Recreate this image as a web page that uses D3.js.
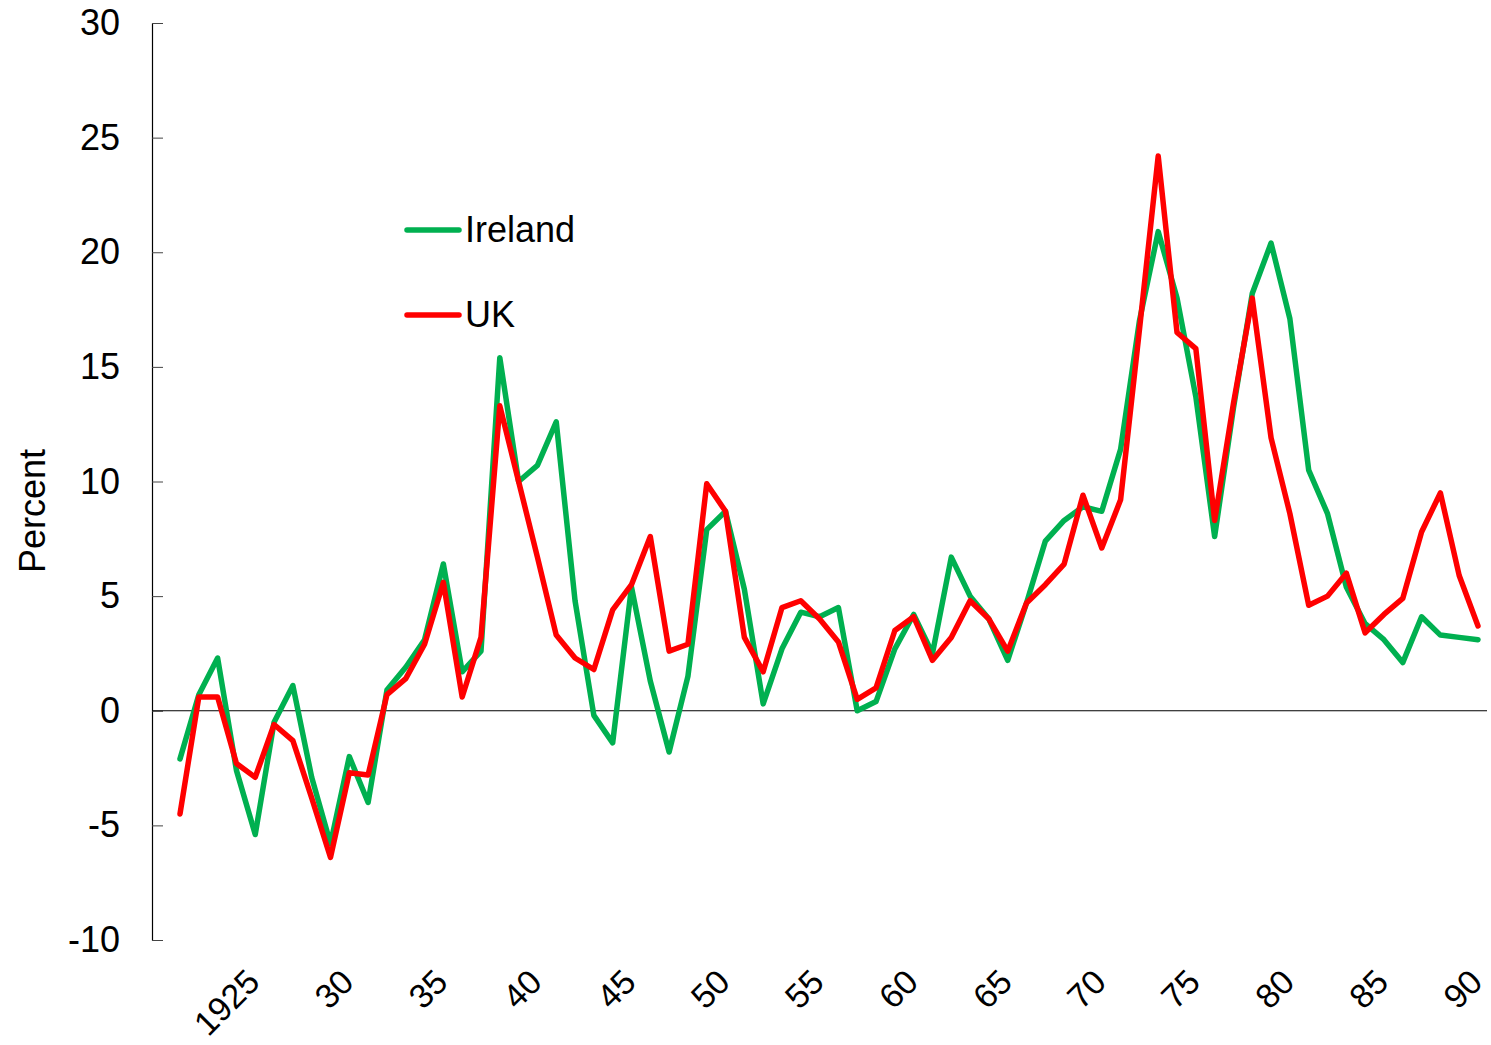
<!DOCTYPE html>
<html>
<head>
<meta charset="utf-8">
<script src="https://cdn.jsdelivr.net/npm/d3@7"></script>
<style>
  body { margin: 0; background: #fff; }
  text { font-family: "Liberation Sans", Arial, sans-serif; fill: #000; }
</style>
</head>
<body>
<svg width="1491" height="1045"></svg>
<script>
// years 1923 - 1992
var years = d3.range(1923, 1993);

var ireland = [-2.1, 0.7, 2.3, -2.6, -5.4, -0.5, 1.1, -2.9, -5.8, -2.0,
    -4.0, 0.9, 1.9, 3.1, 6.4, 1.7, 2.6, 15.4, 10.0, 10.7,
    12.6, 4.8, -0.2, -1.4, 5.4, 1.3, -1.8, 1.5, 7.9, 8.7,
    5.3, 0.3, 2.7, 4.3, 4.1, 4.5, 0.0, 0.4, 2.7, 4.2,
    2.5, 6.7, 5.0, 4.0, 2.2, 4.7, 7.4, 8.3, 8.9, 8.7,
    11.4, 17.0, 20.9, 18.0, 13.7, 7.6, 13.2, 18.2, 20.4, 17.1,
    10.5, 8.6, 5.4, 3.8, 3.1, 2.1, 4.1, 3.3, 3.2, 3.1];

var uk = [-4.5, 0.6, 0.6, -2.3, -2.9, -0.6, -1.3, -3.8, -6.4, -2.7,
    -2.8, 0.7, 1.4, 2.9, 5.6, 0.6, 3.2, 13.3, 10.0, 6.7,
    3.3, 2.3, 1.8, 4.4, 5.5, 7.6, 2.6, 2.9, 9.9, 8.7,
    3.2, 1.7, 4.5, 4.8, 4.0, 3.0, 0.5, 1.0, 3.5, 4.1,
    2.2, 3.2, 4.8, 4.0, 2.6, 4.7, 5.5, 6.4, 9.4, 7.1,
    9.2, 16.6, 24.2, 16.5, 15.8, 8.3, 13.4, 18.0, 11.9, 8.6,
    4.6, 5.0, 6.0, 3.4, 4.2, 4.9, 7.8, 9.5, 5.9, 3.7];

var tickYears = [1925, 1930, 1935, 1940, 1945, 1950, 1955, 1960, 1965, 1970, 1975, 1980, 1985, 1990];
var tickLabels = ['1925', '30', '35', '40', '45', '50', '55', '60', '65', '70', '75', '80', '85', '90'];
var yTicks = [-10, -5, 0, 5, 10, 15, 20, 25, 30];

var series = [
    {name: 'Ireland', values: ireland, color: '#00b050', legendY: 230},
    {name: 'UK', values: uk, color: '#ff0000', legendY: 315}
];

var svg = d3.select('svg');

var plotLeft = 152, plotRight = 1487;

var xScale = d3.scalePoint()
    .domain(years)
    .range([180, 1478]);

var yScale = d3.scaleLinear()
    .domain([-10, 30])
    .range([940, 23]);

// y axis, ticks pointing into the plot, plain hyphen for negatives
var yAxis = d3.axisLeft(yScale)
    .tickValues(yTicks)
    .tickFormat(function(d){ return String(d); })
    .tickSizeInner(-11)
    .tickSizeOuter(0)
    .tickPadding(32);

var yG = svg.append('g')
    .attr('transform', 'translate(' + plotLeft + ',0)')
    .call(yAxis);
yG.select('.domain').attr('stroke', '#000').attr('stroke-width', 1.2);
yG.selectAll('line').attr('stroke', '#444');
yG.selectAll('text')
    .style('font-family', '"Liberation Sans", Arial, sans-serif')
    .style('font-size', '36px')
    .attr('fill', '#000');

// zero line
svg.append('line')
    .attr('x1', plotLeft)
    .attr('x2', plotRight)
    .attr('y1', yScale(0))
    .attr('y2', yScale(0))
    .attr('stroke', '#000')
    .attr('stroke-width', 1.2);

// category labels, rotated
svg.selectAll('.xlabel')
    .data(tickYears)
    .enter()
    .append('text')
    .attr('class', 'xlabel')
    .attr('text-anchor', 'end')
    .style('font-size', '34px')
    .attr('transform', function(d){
        return 'translate(' + (xScale(d) + 44) + ',984) rotate(-45)';
    })
    .text(function(d, i){ return tickLabels[i]; });

// y title
svg.append('text')
    .attr('text-anchor', 'middle')
    .style('font-size', '36px')
    .attr('transform', 'translate(45,511) rotate(-90)')
    .text('Percent');

var line = d3.line()
    .x(function(d, i){ return xScale(years[i]); })
    .y(function(d){ return yScale(d); });

svg.selectAll('.series')
    .data(series)
    .enter()
    .append('path')
    .attr('class', 'series')
    .attr('d', function(d){ return line(d.values); })
    .attr('fill', 'none')
    .attr('stroke', function(d){ return d.color; })
    .attr('stroke-width', 5.5)
    .attr('stroke-linejoin', 'round')
    .attr('stroke-linecap', 'round');

// legend
var legend = svg.selectAll('.legend')
    .data(series)
    .enter()
    .append('g')
    .attr('class', 'legend')
    .attr('transform', function(d){ return 'translate(0,' + d.legendY + ')'; });

legend.append('line')
    .attr('x1', 407)
    .attr('x2', 459)
    .attr('stroke', function(d){ return d.color; })
    .attr('stroke-width', 5.5)
    .attr('stroke-linecap', 'round');

legend.append('text')
    .attr('x', 465)
    .attr('y', 12)
    .style('font-size', '36px')
    .text(function(d){ return d.name; });
</script>
</body>
</html>
